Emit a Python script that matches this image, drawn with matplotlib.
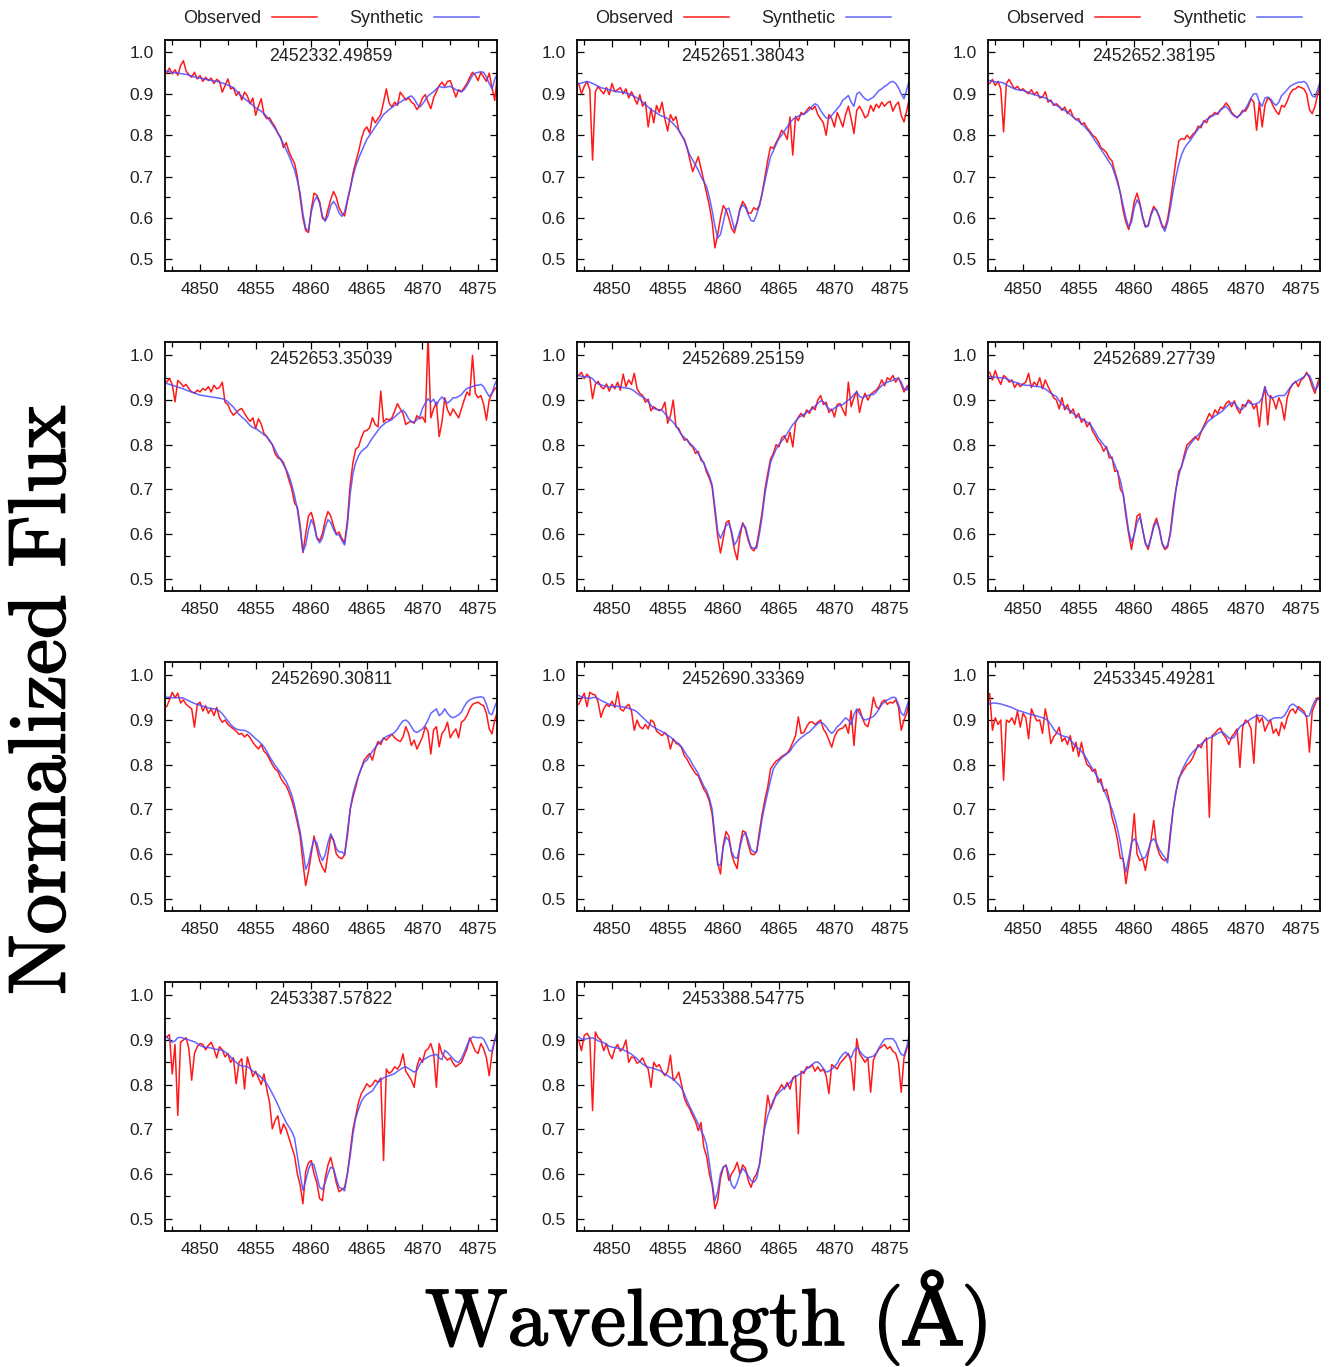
import matplotlib
matplotlib.use("Agg")
import matplotlib.pyplot as plt
import matplotlib.patheffects as pe
import numpy as np
from matplotlib.ticker import MultipleLocator, FormatStrFormatter

# H-beta profiles, flux stored x1000 on a 0.25 A grid (4847.00 .. 4876.75)
WAVE = np.arange(4847.0, 4877.0, 0.25)

DATES = ["2452332.49859", "2452651.38043", "2452652.38195", "2452653.35039",
         "2452689.25159", "2452689.27739", "2452690.30811", "2452690.33369",
         "2453345.49281", "2453387.57822", "2453388.54775"]

SYN_1 = [955, 953, 952, 951, 950, 949, 948, 947, 945, 943, 941, 939, 938, 937, 935, 934,
         932, 931, 930, 928, 926, 924, 921, 918, 915, 908, 900, 894, 888, 883, 878, 872,
         866, 862, 858, 852, 845, 836, 826, 816, 805, 792, 779, 765, 750, 733, 716, 690,
         660, 610, 575, 570, 615, 640, 652, 635, 605, 592, 605, 630, 640, 630, 612, 604,
         615, 645, 672, 700, 725, 743, 760, 775, 790, 800, 810, 820, 830, 840, 850, 856,
         862, 867, 872, 876, 880, 884, 888, 892, 895, 888, 876, 868, 875, 885, 895, 900,
         905, 912, 918, 916, 915, 917, 918, 914, 910, 907, 905, 910, 920, 932, 945, 950,
         952, 953, 952, 940, 925, 912, 935, 950]
OBS_1 = [950, 962, 948, 958, 945, 968, 980, 955, 946, 940, 952, 936, 944, 930, 940, 932,
         938, 925, 935, 930, 904, 920, 936, 912, 915, 896, 905, 885, 904, 895, 876, 890,
         848, 870, 888, 850, 840, 842, 830, 820, 805, 795, 770, 782, 760, 745, 732, 700,
         650, 600, 570, 565, 620, 660, 655, 640, 600, 594, 620, 645, 664, 650, 625, 612,
         605, 640, 670, 708, 735, 760, 790, 812, 820, 805, 844, 830, 840, 850, 880, 912,
         878, 868, 880, 872, 904, 895, 885, 890, 880, 875, 862, 872, 890, 898, 880, 864,
         890, 905, 920, 928, 918, 930, 932, 912, 892, 910, 905, 915, 925, 940, 952, 945,
         932, 952, 940, 930, 950, 915, 884, 952]

SYN_2 = [924, 926, 928, 929, 928, 925, 922, 918, 915, 913, 912, 910, 908, 906, 905, 904,
         904, 902, 900, 897, 894, 890, 886, 880, 874, 868, 862, 858, 854, 849, 846, 844,
         840, 834, 828, 820, 812, 800, 788, 768, 752, 740, 728, 716, 700, 688, 676, 650,
         618, 580, 552, 560, 590, 620, 624, 600, 572, 590, 620, 632, 625, 608, 594, 592,
         608, 630, 660, 690, 720, 748, 762, 778, 792, 800, 810, 820, 830, 838, 843, 846,
         849, 852, 855, 862, 870, 876, 872, 860, 850, 842, 840, 848, 856, 864, 872, 885,
         890, 896, 880, 870, 900, 904, 895, 888, 884, 888, 892, 900, 908, 912, 918, 922,
         928, 930, 925, 915, 900, 888, 910, 936]
OBS_2 = [925, 900, 918, 930, 910, 740, 905, 918, 908, 900, 915, 898, 925, 905, 910, 915,
         900, 912, 890, 905, 890, 875, 898, 870, 880, 820, 865, 830, 872, 855, 880, 840,
         810, 850, 835, 845, 812, 800, 790, 770, 740, 712, 730, 748, 720, 690, 660, 630,
         590, 528, 560, 600, 630, 620, 600, 575, 564, 590, 622, 640, 630, 612, 612, 625,
         620, 630, 660, 700, 740, 772, 768, 782, 795, 812, 805, 790, 844, 752, 845, 835,
         855, 850, 860, 868, 862, 870, 850, 840, 830, 800, 850, 840, 820, 855, 838, 820,
         850, 870, 840, 804, 860, 870, 858, 842, 848, 872, 858, 875, 866, 880, 870, 878,
         882, 858, 872, 880, 848, 832, 860, 892]

SYN_3 = [932, 930, 929, 928, 928, 926, 922, 918, 915, 912, 910, 909, 908, 906, 904, 900,
         898, 896, 894, 892, 890, 886, 882, 876, 872, 868, 864, 860, 856, 850, 844, 838,
         834, 828, 822, 814, 806, 796, 786, 776, 766, 756, 746, 735, 725, 706, 684, 660,
         630, 600, 578, 590, 625, 644, 632, 600, 578, 580, 606, 622, 620, 600, 580, 568,
         590, 625, 665, 700, 730, 752, 768, 778, 786, 796, 806, 815, 824, 832, 838, 842,
         846, 850, 854, 860, 866, 870, 862, 852, 846, 844, 848, 856, 864, 876, 890, 900,
         900, 880, 870, 890, 892, 888, 878, 872, 880, 896, 902, 910, 918, 922, 925, 928,
         928, 930, 925, 910, 895, 892, 912, 932]
OBS_3 = [925, 935, 920, 930, 912, 808, 925, 935, 922, 912, 918, 908, 912, 905, 900, 910,
         898, 905, 890, 892, 905, 880, 885, 872, 876, 870, 860, 868, 852, 862, 845, 838,
         840, 826, 830, 818, 810, 800, 795, 785, 770, 765, 758, 745, 738, 712, 690, 660,
         618, 590, 572, 600, 640, 660, 636, 604, 580, 582, 610, 628, 618, 604, 582, 575,
         598, 640, 690, 740, 786, 792, 790, 800, 792, 802, 808, 822, 818, 835, 830, 845,
         848, 855, 850, 862, 868, 878, 870, 855, 848, 842, 850, 860, 858, 870, 888, 880,
         812, 880, 820, 872, 890, 885, 870, 858, 850, 872, 868, 882, 900, 910, 912, 918,
         915, 912, 900, 862, 852, 870, 900, 925]

SYN_4 = [937, 935, 933, 931, 929, 927, 925, 922, 920, 918, 916, 913, 911, 910, 909, 908,
         907, 906, 905, 904, 903, 900, 896, 890, 884, 876, 868, 862, 857, 850, 843, 838,
         836, 832, 827, 822, 818, 810, 800, 788, 776, 766, 755, 744, 730, 710, 685, 655,
         610, 560, 575, 610, 632, 618, 590, 580, 590, 615, 632, 625, 610, 598, 598, 585,
         575, 620, 690, 735, 760, 775, 785, 790, 795, 805, 815, 823, 832, 840, 845, 850,
         853, 856, 862, 868, 873, 877, 870, 858, 852, 850, 856, 862, 881, 893, 903, 895,
         902, 888, 900, 907, 900, 893, 898, 905, 905, 908, 912, 920, 926, 928, 930, 933,
         933, 935, 930, 918, 908, 915, 935, 948]
OBS_4 = [940, 948, 935, 896, 944, 938, 930, 935, 925, 918, 915, 922, 918, 926, 922, 930,
         918, 933, 925, 928, 940, 895, 890, 875, 866, 872, 878, 881, 870, 860, 852, 860,
         836, 858, 846, 825, 818, 808, 800, 780, 770, 768, 760, 742, 720, 700, 669, 660,
         620, 558, 600, 640, 648, 625, 592, 585, 600, 630, 650, 640, 618, 600, 604, 590,
         580, 630, 710, 760, 790, 795, 815, 830, 832, 838, 860, 845, 840, 920, 850, 858,
         855, 860, 875, 892, 880, 870, 845, 850, 852, 848, 865, 858, 862, 850, 1045, 860,
         880, 895, 818, 850, 905, 878, 865, 880, 870, 860, 880, 900, 918, 910, 1000, 915,
         905, 910, 890, 855, 900, 915, 925, 930]

SYN_5 = [955, 953, 952, 952, 951, 948, 940, 936, 934, 932, 930, 929, 929, 930, 930, 929,
         928, 927, 926, 924, 920, 915, 910, 907, 903, 896, 888, 881, 879, 878, 877, 870,
         862, 856, 850, 842, 832, 822, 816, 810, 803, 797, 790, 780, 770, 758, 744, 730,
         710, 660, 605, 590, 605, 618, 624, 605, 575, 585, 606, 622, 615, 590, 570, 568,
         568, 600, 640, 690, 725, 760, 775, 790, 800, 808, 815, 825, 835, 845, 852, 860,
         864, 868, 872, 876, 880, 886, 892, 898, 896, 888, 880, 876, 882, 886, 888, 890,
         895, 900, 905, 912, 918, 908, 905, 908, 910, 912, 912, 918, 926, 932, 937, 940,
         942, 944, 948, 948, 940, 925, 922, 940]
OBS_5 = [955, 962, 948, 958, 950, 903, 935, 942, 930, 925, 936, 920, 935, 925, 940, 922,
         958, 930, 945, 935, 960, 925, 915, 910, 895, 902, 876, 885, 880, 876, 880, 895,
         848, 865, 900, 840, 836, 822, 810, 812, 800, 795, 780, 785, 765, 760, 738, 725,
         705, 650, 595, 557, 590, 625, 630, 600, 565, 542, 595, 625, 610, 585, 568, 562,
         575, 610, 650, 700, 735, 768, 780, 800, 795, 815, 820, 805, 828, 795, 850, 862,
         870, 862, 878, 870, 885, 878, 900, 910, 890, 895, 872, 880, 862, 890, 892, 878,
         865, 940, 885, 905, 920, 872, 900, 915, 900, 912, 918, 922, 930, 945, 932, 950,
         945, 955, 940, 950, 935, 918, 930, 935]

SYN_6 = [952, 952, 951, 950, 950, 949, 948, 945, 942, 940, 938, 936, 934, 933, 933, 932,
         931, 930, 930, 928, 925, 920, 915, 911, 908, 898, 890, 886, 880, 876, 870, 866,
         862, 858, 854, 850, 846, 838, 828, 816, 808, 800, 792, 780, 768, 755, 738, 720,
         690, 650, 605, 582, 598, 625, 638, 610, 580, 570, 590, 615, 628, 610, 580, 568,
         575, 600, 648, 700, 730, 752, 770, 790, 800, 808, 815, 822, 829, 838, 848, 855,
         859, 864, 868, 872, 877, 884, 890, 894, 894, 885, 878, 880, 890, 895, 892, 890,
         892, 895, 905, 929, 912, 905, 905, 908, 910, 910, 910, 918, 928, 936, 940, 944,
         948, 952, 958, 955, 940, 922, 930, 950]
OBS_6 = [962, 945, 966, 948, 935, 955, 950, 940, 945, 928, 938, 930, 936, 940, 960, 928,
         940, 932, 950, 925, 945, 930, 918, 905, 900, 880, 905, 878, 890, 870, 880, 860,
         870, 850, 858, 840, 850, 830, 820, 808, 800, 785, 796, 770, 772, 740, 742, 700,
         690, 640, 600, 565, 600, 640, 645, 610, 578, 565, 592, 620, 635, 612, 578, 565,
         570, 605, 660, 700, 740, 750, 778, 800, 805, 812, 818, 810, 828, 842, 855, 870,
         860, 878, 870, 885, 880, 892, 898, 885, 898, 880, 870, 890, 885, 900, 895, 880,
         890, 840, 900, 930, 844, 910, 900, 880, 905, 890, 855, 905, 925, 935, 942, 930,
         945, 950, 962, 950, 930, 915, 940, 952]

SYN_7 = [951, 951, 950, 950, 950, 950, 949, 946, 943, 940, 937, 935, 933, 931, 929, 927,
         926, 925, 924, 920, 914, 906, 898, 890, 884, 880, 878, 877, 877, 874, 870, 864,
         858, 853, 847, 840, 830, 818, 808, 798, 790, 781, 772, 762, 748, 732, 708, 680,
         650, 610, 565, 580, 610, 632, 625, 600, 585, 598, 625, 645, 632, 612, 604, 605,
         598, 650, 700, 735, 757, 775, 792, 805, 810, 820, 830, 838, 846, 852, 858, 863,
         866, 868, 872, 880, 890, 898, 900, 895, 885, 875, 872, 876, 880, 888, 900, 915,
         920, 925, 910, 915, 925, 915, 908, 905, 908, 912, 918, 930, 940, 945, 948, 950,
         951, 952, 950, 935, 915, 912, 930, 945]
OBS_7 = [930, 945, 962, 950, 960, 938, 945, 935, 930, 925, 884, 935, 940, 920, 932, 915,
         925, 910, 928, 905, 895, 900, 890, 885, 880, 875, 868, 870, 862, 868, 860, 850,
         842, 835, 845, 830, 824, 812, 800, 790, 785, 770, 760, 752, 738, 720, 698, 670,
         640, 580, 529, 560, 600, 640, 612, 585, 570, 559, 600, 640, 630, 600, 592, 589,
         598, 640, 700, 727, 750, 775, 792, 810, 818, 825, 810, 835, 852, 845, 860, 855,
         862, 868, 860, 855, 852, 862, 885, 870, 843, 855, 835, 848, 862, 885, 875, 824,
         878, 885, 840, 870, 878, 895, 860, 872, 880, 860, 895, 900, 910, 925, 935, 938,
         940, 935, 932, 915, 880, 869, 900, 920]

SYN_8 = [955, 952, 950, 949, 948, 950, 951, 948, 944, 941, 938, 935, 933, 932, 931, 930,
         929, 928, 926, 924, 922, 918, 912, 906, 900, 894, 888, 884, 880, 877, 874, 870,
         866, 862, 856, 851, 847, 840, 830, 820, 812, 800, 790, 780, 765, 752, 742, 725,
         700, 640, 575, 575, 615, 638, 630, 605, 592, 590, 615, 640, 648, 630, 610, 604,
         605, 640, 680, 710, 738, 765, 790, 800, 808, 815, 820, 825, 830, 840, 848, 855,
         860, 865, 870, 873, 880, 886, 892, 895, 892, 885, 876, 870, 876, 885, 890, 898,
         905, 900, 890, 912, 925, 915, 905, 900, 902, 905, 908, 915, 925, 935, 940, 945,
         948, 951, 950, 935, 915, 910, 930, 950]
OBS_8 = [935, 948, 960, 930, 962, 958, 956, 940, 906, 925, 935, 930, 942, 928, 963, 925,
         920, 930, 935, 920, 877, 900, 885, 880, 890, 880, 900, 895, 875, 870, 865, 872,
         864, 835, 858, 848, 845, 838, 820, 812, 800, 790, 780, 775, 760, 745, 735, 718,
         690, 630, 580, 555, 620, 650, 640, 600, 580, 567, 620, 652, 648, 620, 600, 598,
         605, 650, 690, 722, 750, 790, 800, 808, 812, 818, 822, 826, 835, 850, 865, 907,
         870, 872, 885, 895, 896, 890, 895, 900, 880, 870, 855, 839, 862, 875, 880, 882,
         890, 870, 921, 843, 920, 925, 905, 890, 885, 910, 951, 930, 925, 940, 945, 935,
         940, 938, 945, 930, 877, 900, 915, 948]

SYN_9 = [936, 938, 938, 937, 936, 934, 932, 930, 928, 925, 922, 920, 918, 916, 914, 912,
         911, 909, 907, 905, 903, 898, 890, 880, 872, 868, 865, 863, 862, 856, 848, 840,
         836, 830, 822, 812, 800, 791, 780, 770, 758, 745, 730, 715, 700, 680, 655, 625,
         585, 559, 590, 625, 634, 625, 605, 590, 592, 608, 628, 634, 625, 610, 600, 592,
         580, 640, 700, 740, 765, 785, 798, 810, 820, 828, 834, 840, 846, 851, 856, 860,
         862, 866, 870, 873, 872, 866, 860, 858, 862, 875, 885, 890, 893, 898, 903, 906,
         910, 910, 910, 905, 898, 900, 904, 905, 905, 905, 910, 920, 932, 936, 932, 925,
         920, 915, 908, 910, 930, 944, 946, 946]
OBS_9 = [959, 877, 905, 890, 900, 765, 900, 895, 905, 890, 920, 884, 915, 905, 858, 925,
         910, 898, 900, 870, 925, 895, 847, 862, 870, 884, 852, 860, 845, 865, 830, 850,
         818, 850, 820, 800, 795, 785, 790, 760, 768, 740, 745, 720, 682, 660, 630, 590,
         590, 533, 575, 620, 690, 600, 585, 590, 563, 600, 630, 675, 620, 600, 589, 585,
         590, 650, 700, 738, 770, 780, 790, 800, 805, 815, 830, 845, 838, 852, 860, 682,
         865, 870, 878, 882, 868, 860, 845, 862, 870, 880, 794, 885, 900, 895, 880, 803,
         912, 895, 905, 875, 890, 900, 870, 880, 865, 895, 880, 905, 920, 925, 915, 930,
         925, 920, 905, 828, 920, 935, 950, 945]

SYN_10 = [907, 900, 895, 898, 905, 906, 904, 902, 900, 898, 896, 892, 888, 885, 884, 883,
          882, 880, 879, 878, 877, 873, 868, 862, 856, 850, 844, 842, 841, 840, 836, 830,
          826, 822, 816, 810, 802, 792, 780, 768, 755, 740, 728, 715, 705, 695, 680, 640,
          600, 563, 585, 610, 625, 620, 595, 570, 565, 580, 600, 615, 612, 590, 570, 567,
          562, 600, 640, 690, 725, 745, 762, 772, 778, 782, 786, 796, 805, 810, 815, 818,
          820, 822, 825, 830, 834, 838, 840, 836, 832, 828, 832, 845, 855, 858, 862, 865,
          866, 868, 860, 856, 877, 872, 865, 858, 852, 850, 858, 872, 888, 900, 907, 906,
          905, 906, 902, 890, 876, 875, 900, 922]
OBS_10 = [907, 912, 824, 890, 731, 895, 900, 905, 880, 810, 870, 885, 892, 890, 878, 888,
          895, 880, 860, 885, 878, 862, 870, 850, 860, 802, 850, 858, 790, 862, 840, 818,
          830, 815, 800, 824, 790, 760, 701, 720, 730, 690, 712, 700, 680, 660, 640, 600,
          575, 533, 605, 625, 630, 600, 580, 545, 540, 590, 620, 637, 610, 580, 560, 565,
          570, 600, 650, 700, 730, 760, 780, 790, 802, 795, 800, 810, 805, 815, 630, 835,
          825, 830, 840, 835, 845, 869, 830, 820, 810, 794, 840, 860, 850, 875, 880, 892,
          870, 794, 892, 870, 862, 855, 860, 848, 840, 845, 850, 865, 880, 905, 890, 875,
          870, 892, 880, 860, 820, 870, 900, 920]

SYN_11 = [907, 902, 902, 903, 904, 905, 902, 898, 896, 894, 890, 886, 884, 883, 882, 880,
          878, 875, 872, 868, 863, 858, 852, 846, 842, 839, 838, 836, 834, 832, 828, 824,
          820, 816, 812, 806, 800, 792, 780, 764, 750, 738, 725, 712, 697, 685, 665, 625,
          580, 540, 560, 600, 615, 619, 600, 575, 567, 580, 600, 612, 605, 595, 585, 581,
          590, 620, 670, 705, 730, 748, 765, 775, 782, 788, 793, 798, 805, 812, 818, 822,
          825, 830, 835, 840, 845, 850, 851, 845, 836, 828, 830, 835, 840, 848, 860, 868,
          873, 866, 860, 876, 884, 876, 868, 862, 860, 862, 864, 870, 882, 893, 902, 903,
          903, 903, 895, 880, 868, 865, 885, 915]
OBS_11 = [900, 876, 910, 915, 905, 742, 918, 905, 900, 876, 892, 870, 858, 880, 890, 875,
          882, 900, 850, 862, 860, 848, 852, 860, 845, 835, 794, 850, 840, 845, 830, 820,
          830, 866, 810, 815, 828, 800, 770, 755, 745, 730, 718, 697, 715, 660, 640, 600,
          575, 522, 540, 590, 615, 620, 585, 600, 610, 626, 600, 620, 612, 585, 570, 590,
          600, 620, 660, 720, 776, 745, 760, 780, 788, 800, 790, 805, 790, 815, 820, 690,
          830, 825, 840, 838, 845, 830, 840, 830, 835, 820, 780, 845, 840, 835, 848, 855,
          862, 870, 850, 787, 903, 870, 860, 850, 860, 783, 855, 870, 880, 885, 890, 880,
          885, 875, 870, 850, 783, 860, 880, 900]

OBSERVED = [OBS_1, OBS_2, OBS_3, OBS_4, OBS_5, OBS_6, OBS_7, OBS_8, OBS_9, OBS_10, OBS_11]
SYNTHETIC = [SYN_1, SYN_2, SYN_3, SYN_4, SYN_5, SYN_6, SYN_7, SYN_8, SYN_9, SYN_10, SYN_11]

W, H = 1333, 1367
fig = plt.figure(figsize=(W / 100, H / 100), dpi=100)
plt.rcParams['font.family'] = ['Liberation Sans', 'DejaVu Sans']

# panel frames in pixels (left, top, right, bottom)
col_x = [(165, 497), (577, 909), (988, 1320)]
row_y = [(40, 271), (342, 591), (662, 911), (982, 1231)]

for k in range(11):
    r, c = divmod(k, 3)
    x0, x1 = col_x[c]
    y0, y1 = row_y[r]
    ax = fig.add_axes([x0 / W, 1 - y1 / H, (x1 - x0) / W, (y1 - y0) / H])
    obs = np.array(OBSERVED[k]) / 1000.0
    syn = np.array(SYNTHETIC[k]) / 1000.0
    ax.plot(WAVE, obs, color='#ff1a1a', lw=1.1, label='Observed')
    ax.plot(WAVE, syn, color='#4a4aff', lw=1.1, alpha=0.85, label='Synthetic')
    ax.set_xlim(4846.85, 4876.7)
    ax.set_ylim(0.472, 1.03)
    ax.xaxis.set_major_locator(MultipleLocator(5))
    ax.xaxis.set_minor_locator(MultipleLocator(2.5))
    ax.yaxis.set_major_locator(MultipleLocator(0.1))
    ax.yaxis.set_minor_locator(MultipleLocator(0.05))
    ax.yaxis.set_major_formatter(FormatStrFormatter('%.1f'))
    ax.tick_params(which='both', direction='in', top=True, right=True,
                   labelsize=12.5, labelcolor='#222222', width=0.9)
    ax.tick_params(which='major', length=5)
    ax.tick_params(which='minor', length=3.5)
    ax.tick_params(axis='y', pad=8)
    ax.tick_params(axis='x', pad=8)
    for s in ax.spines.values():
        s.set_linewidth(1.3)
    ax.text(0.5, 0.965, DATES[k], transform=ax.transAxes, ha='center', va='top',
            fontsize=12.8, color='#222222')
    if r == 0:
        ax.legend(loc='lower center', bbox_to_anchor=(0.5, 1.0), ncol=2, frameon=False,
                  markerfirst=False, fontsize=13, handlelength=2.5, columnspacing=1.8,
                  handletextpad=0.6, borderaxespad=0.3, labelcolor='#222222')

serif = ['cmr10', 'DejaVu Serif']
thick = [pe.withStroke(linewidth=1.2, foreground='black')]
fig.text(0.0335, 0.488, 'Normalized Flux', rotation=90, ha='center', va='center',
         fontsize=58, family=serif, path_effects=thick)
fig.text(0.532, 0.0161, 'Wavelength (Å)', ha='center', va='baseline',
         fontsize=58, family=serif, path_effects=thick)

fig.savefig('out.png', dpi=100)
